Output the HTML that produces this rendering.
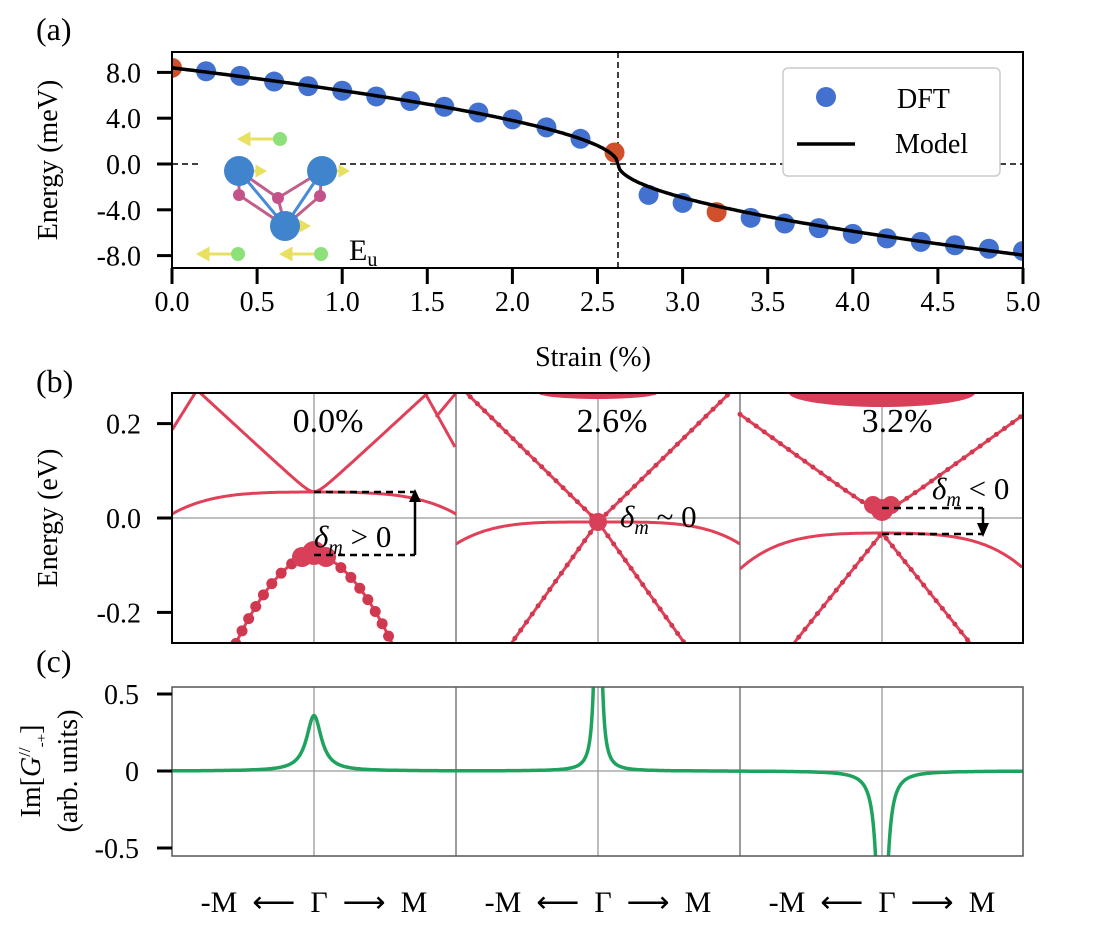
<!DOCTYPE html>
<html><head><meta charset="utf-8"><style>
html,body{margin:0;padding:0;background:#fff;width:1096px;height:944px;overflow:hidden}
svg{display:block}
text{font-family:"Liberation Serif",serif;fill:#000}
</style></head><body>
<svg id="s" width="1096" height="944" viewBox="0 0 1096 944" xmlns="http://www.w3.org/2000/svg"></svg>
<script>
const S=document.getElementById('s');let h='';
function T(x,y,t,sz,anc,extra){h+=`<text x="${x}" y="${y}" style="font-size:${sz}px" text-anchor="${anc||'start'}" ${extra||''}>${t}</text>`;}
// ---------- Panel (a)
const ax=s=>172+s*170.2, ay=e=>164-e*11.45;
T(36,40,'(a)',32);
h+=`<line x1="172" y1="164" x2="200" y2="164" stroke="#000" stroke-width="1.5" stroke-dasharray="6,4"/>`;
h+=`<line x1="340" y1="164" x2="1023" y2="164" stroke="#000" stroke-width="1.5" stroke-dasharray="6,4"/>`;
h+=`<line x1="618" y1="52" x2="618" y2="268" stroke="#000" stroke-width="1.5" stroke-dasharray="6,4"/>`;
const dft=[8.4,8.1,7.7,7.2,6.8,6.4,5.9,5.5,5.0,4.5,3.9,3.2,2.2,1.0,-2.7,-3.4,-4.2,-4.7,-5.2,-5.6,-6.1,-6.5,-6.8,-7.1,-7.4,-7.6];
let pts=[];for(let i=0;i<=500;i++){let s=i/100,d=2.62-s;let e=Math.sign(d)*(4.486*Math.sqrt(Math.abs(d))+0.435*Math.abs(d));pts.push(ax(s).toFixed(1)+','+ay(e).toFixed(1));}
h+=`<svg x="172" y="52" width="851" height="216" viewBox="172 52 851 216" overflow="hidden">`;
dft.forEach((e,i)=>{let red=(i==0||i==13||i==16);h+=`<circle cx="${ax(i*0.2)}" cy="${ay(e)}" r="10" fill="${red?'#d0502c':'#4271cf'}"/>`;});
h+=`<polyline points="${pts.join(' ')}" fill="none" stroke="#000" stroke-width="3.5"/>`;
h+=`<g stroke="#e8e060" stroke-width="3" fill="#e8e060">
<line x1="248" y1="139" x2="273" y2="139"/><polygon points="240,139 249,134 249,144"/>
<line x1="207" y1="254" x2="231" y2="254"/><polygon points="199,254 208,249 208,259"/>
<line x1="290" y1="254" x2="314" y2="254"/><polygon points="282,254 291,249 291,259"/>
<line x1="250" y1="171" x2="258" y2="171"/><polygon points="264,171 257,167 257,175"/>
<line x1="333" y1="171" x2="341" y2="171"/><polygon points="347,171 340,167 340,175"/>
<line x1="296" y1="226" x2="302" y2="226"/><polygon points="308,226 301,222 301,230"/></g>`;
h+=`<g stroke-width="3"><line x1="239" y1="171" x2="285" y2="226" stroke="#4a8ad8"/><line x1="322" y1="171" x2="285" y2="226" stroke="#4a8ad8"/>
<line x1="239" y1="171" x2="278" y2="198" stroke="#c0608a"/><line x1="322" y1="171" x2="278" y2="198" stroke="#c0608a"/>
<line x1="239" y1="195" x2="285" y2="226" stroke="#c0608a"/><line x1="320" y1="196" x2="285" y2="226" stroke="#c0608a"/>
<line x1="239" y1="171" x2="239" y2="195" stroke="#c0608a"/><line x1="322" y1="171" x2="320" y2="196" stroke="#c0608a"/><line x1="278" y1="198" x2="285" y2="226" stroke="#c0608a"/></g>`;
[[239,171],[322,171],[285,226]].forEach(p=>h+=`<circle cx="${p[0]}" cy="${p[1]}" r="15" fill="#3f84cc"/>`);
[[239,195],[278,198],[320,196]].forEach(p=>h+=`<circle cx="${p[0]}" cy="${p[1]}" r="6" fill="#c4528a"/>`);
[[280,139],[238,254],[321,254]].forEach(p=>h+=`<circle cx="${p[0]}" cy="${p[1]}" r="7" fill="#8ee07a"/>`);
h+=`</svg>`;
T(349,260,'E<tspan style="font-size:20px" dy="6">u</tspan>',30);
h+=`<rect x="172" y="52" width="851" height="216" fill="none" stroke="#000" stroke-width="2"/>`;
h+=`<rect x="783" y="68" width="217" height="108" rx="5" fill="#fff" stroke="#ccc" stroke-width="1.5"/>`;
h+=`<circle cx="826" cy="97" r="10" fill="#4271cf"/>`;T(897,108,'DFT',28);
h+=`<line x1="797" y1="144" x2="855" y2="144" stroke="#000" stroke-width="3.5"/>`;T(895,153,'Model',28);
[8,4,0,-4,-8].forEach(e=>{let y=ay(e);h+=`<line x1="157" y1="${y}" x2="172" y2="${y}" stroke="#000" stroke-width="3"/>`;T(141,y+10,e.toFixed(1),28,'end');});
for(let i=0;i<=10;i++){let s=i*0.5,x=ax(s);h+=`<line x1="${x}" y1="268" x2="${x}" y2="284" stroke="#000" stroke-width="3"/>`;T(x,311,s.toFixed(1),28,'middle');}
T(593,366,'Strain (%)',28,'middle');
T(57,160,'Energy (meV)',28,'middle','transform="rotate(-90 57 160)"');
// ---------- Panel (b)
T(36,392,'(b)',32);
const by=e=>518-e*472;
h+=`<svg x="172" y="393" width="851" height="250" viewBox="172 393 851 250" overflow="hidden">`;
[314,598,882].forEach(x=>h+=`<line x1="${x}" y1="393" x2="${x}" y2="643" stroke="#999" stroke-width="1.3"/>`);
h+=`<line x1="172" y1="518" x2="1023" y2="518" stroke="#999" stroke-width="1.3"/>`;
[456,740].forEach(x=>h+=`<line x1="${x}" y1="393" x2="${x}" y2="643" stroke="#666" stroke-width="1.3"/>`);
const P='#e04058';
function curve(f,x0,x1,dots,dw){let p=[];for(let x=x0;x<=x1;x+=2)p.push(x+','+f(x).toFixed(1));let d=p.join(' ');
h+=`<polyline points="${d}" fill="none" stroke="${P}" stroke-width="3"/>`;
if(dots)h+=`<polyline points="${d}" fill="none" stroke="#d03850" stroke-width="${dw||6}" stroke-linecap="round" stroke-dasharray="0 ${dots}"/>`;}
curve(x=>{let k=(x-314)/142;return 492+18*k*k*k*k+4*k*k},172,456);
curve(x=>{let d=x-314;return 492-Math.sqrt(d*d*0.85+40)+6},172,456,0);
curve(x=>430-(x-172)*1.6,172,200);curve(x=>393+(x-425)*1.8,425,456);curve(x=>393+(456-x)*1.2,436,456);
curve(x=>{let d=Math.abs(x-314);return 553+d*d*0.012+d*0.22},230,400,14,11);
h+=`<circle cx="314" cy="553" r="12" fill="#d8405a"/><circle cx="302" cy="557" r="10" fill="#d8405a"/><circle cx="326" cy="557" r="10" fill="#d8405a"/>`;
curve(x=>{let k=(x-598)/142;return 522+22*k*k*k*k},456,740);
curve(x=>522-Math.abs(x-598)*0.98,456,740,10,5);
curve(x=>522+Math.abs(x-598)*1.4,480,720,10,5);
h+=`<circle cx="598" cy="522" r="9" fill="#d8405a"/><ellipse cx="598" cy="393" rx="60" ry="6" fill="#d8405a"/>`;
curve(x=>{let k=(x-882)/142;return 533+8*k*k+28*k*k*k*k},740,1023);
curve(x=>{let d=x-882;return 512-Math.sqrt(d*d*0.53+60)+6},740,1023,10,5);
curve(x=>533+Math.abs(x-882)*1.25,780,990,10,5);
h+=`<circle cx="882" cy="510" r="11" fill="#d8405a"/><circle cx="873" cy="505" r="9" fill="#d8405a"/><circle cx="891" cy="505" r="9" fill="#d8405a"/><ellipse cx="882" cy="393" rx="93" ry="14" fill="#d8405a"/>`;
h+=`</svg>`;
h+=`<rect x="172" y="393" width="851" height="250" fill="none" stroke="#000" stroke-width="2"/>`;
[[0.2,'0.2'],[0,'0.0'],[-0.2,'-0.2']].forEach(a=>{let y=by(a[0]);h+=`<line x1="157" y1="${y}" x2="172" y2="${y}" stroke="#000" stroke-width="3"/>`;T(141,y+10,a[1],28,'end');});
T(57,518,'Energy (eV)',28,'middle','transform="rotate(-90 57 518)"');
T(328,432,'0.0%',34,'middle');T(612,432,'2.6%',34,'middle');T(897,432,'3.2%',34,'middle');
const dash='stroke="#000" stroke-width="2.5" stroke-dasharray="7,5"';
h+=`<line x1="314" y1="492" x2="415" y2="492" ${dash}/><line x1="314" y1="555" x2="415" y2="555" ${dash}/>`;
h+=`<line x1="415" y1="555" x2="415" y2="500" stroke="#000" stroke-width="2.5"/><polygon points="415,489 409,502 421,502" fill="#000"/>`;
h+=`<line x1="882" y1="508" x2="983" y2="508" ${dash}/><line x1="882" y1="534" x2="983" y2="534" ${dash}/>`;
h+=`<line x1="983" y1="508" x2="983" y2="524" stroke="#000" stroke-width="2.5"/><polygon points="983,537 977,523 989,523" fill="#000"/>`;
T(314,547,'<tspan font-style="italic">δ</tspan><tspan style="font-size:20px" dy="7" font-style="italic">m</tspan><tspan dy="-7"> &gt; 0</tspan>',31);
T(620,527,'<tspan font-style="italic">δ</tspan><tspan style="font-size:20px" dy="7" font-style="italic">m</tspan><tspan dy="-7"> ~ 0</tspan>',31);
T(932,499,'<tspan font-style="italic">δ</tspan><tspan style="font-size:20px" dy="7" font-style="italic">m</tspan><tspan dy="-7"> &lt; 0</tspan>',31);
// ---------- Panel (c)
T(36,672,'(c)',32);
const cy=v=>771-v*154;
h+=`<svg x="172" y="687" width="851" height="169" viewBox="172 687 851 169" overflow="hidden">`;
[314,598,882].forEach(x=>h+=`<line x1="${x}" y1="687" x2="${x}" y2="856" stroke="#999" stroke-width="1.3"/>`);
h+=`<line x1="172" y1="771" x2="1023" y2="771" stroke="#999" stroke-width="1.3"/>`;
[456,740].forEach(x=>h+=`<line x1="${x}" y1="687" x2="${x}" y2="856" stroke="#666" stroke-width="1.3"/>`);
let g=[];for(let x=172;x<=1023;x+=0.5){let v=0;
v+=0.36/(1+Math.pow((x-314)/9,2));v+=3/(1+Math.pow((x-598)/2.2,2));v-=2/(1+Math.pow((x-882)/4,2));
g.push(x+','+Math.max(600,Math.min(950,cy(v))).toFixed(1));}
h+=`<polyline points="${g.join(' ')}" fill="none" stroke="#1ea35f" stroke-width="3.5"/>`;
h+=`</svg>`;
h+=`<rect x="172" y="687" width="851" height="169" fill="none" stroke="#555" stroke-width="1.5"/>`;
[[0.5,'0.5'],[0,'0'],[-0.5,'-0.5']].forEach(a=>{let y=cy(a[0]);h+=`<line x1="157" y1="${y}" x2="172" y2="${y}" stroke="#000" stroke-width="3"/>`;T(139,y+10,a[1],28,'end');});
T(40,771,'Im[<tspan font-style="italic">G</tspan><tspan style="font-size:17px" dy="-10">//</tspan><tspan style="font-size:15px" dy="16">-+</tspan><tspan dy="-6">]</tspan>',28,'middle','transform="rotate(-90 40 771)"');
T(77,771,'(arb. units)',28,'middle','transform="rotate(-90 77 771)"');
[314,598,882].forEach(x=>T(x,912,'-M &#160;⟵&#160; Γ &#160;⟶&#160; M',30,'middle','font-family="Liberation Serif, DejaVu Serif, serif"'));
S.innerHTML=h;
</script>
</body></html>
